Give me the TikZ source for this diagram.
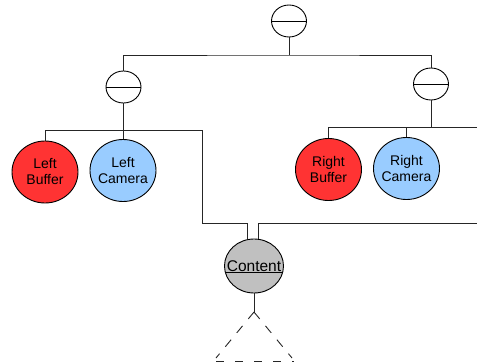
\documentclass[tikz,border=0pt]{standalone}
\usepackage{fontspec}
\setmainfont{Liberation Sans}
\usetikzlibrary{shapes.geometric}
\definecolor{bufferred}{HTML}{FF3333}
\definecolor{camerablue}{HTML}{99CCFF}
\definecolor{contentgray}{HTML}{C0C0C0}
\begin{document}
\begin{tikzpicture}
        [
            x = 1pt, y = -1pt,
            every node/.style={font=\fontsize{14}{16}\selectfont, align=center},
            every path/.style={line width=0.9pt},
            unit/.style={ellipse, draw, inner sep=0pt, inner xsep=-8pt},
            split/.style={unit, minimum width=35pt, minimum height=32pt,
                path picture={\draw (path picture bounding box.west) -- (path picture bounding box.east);}},
            leaf/.style={unit, minimum width=66pt, minimum height=62pt},
            bus/.style={draw=black!85},
        ]
        \useasboundingbox (0,0) rectangle (477,364);
        \node[split] (top) at (289,21) {};
        \node[split] (lmid) at (123.5,87) {};
        \node[split] (rmid) at (431,84) {};
        \node[leaf, fill=bufferred] (lbuf) at (45,172) {Left\\Buffer};
        \node[leaf, fill=camerablue] (lcam) at (123,170.5) {Left\\Camera};
        \node[leaf, fill=bufferred] (rbuf) at (328.5,169.5) {Right\\Buffer};
        \node[leaf, fill=camerablue] (rcam) at (406.5,168.5) {Right\\Camera};
        \node[unit, fill=contentgray, minimum width=59pt, minimum height=54pt,
            font=\fontsize{15.5}{17}\selectfont,
            path picture={\draw ([yshift=-6.8pt]path picture bounding box.west) -- ([yshift=-6.8pt]path picture bounding box.east);}]
            (content) at (254,266) {\raisebox{-5pt}[0pt][0pt]{\underline{Content}}};
        \coordinate (rout) at (477,127);
        \coordinate (cout) at (477,223);
        \coordinate (apex) at (254,312);
        \coordinate (foot1) at (216,358);
        \coordinate (foot2) at (292,358);
        \draw[bus] (lmid.north) |- (289,55) -| (rmid.north);
        \draw[bus] (top.south) -- (top.south |- 0,55);
        \draw[bus] (lbuf.north) |- (202,130) -- (202,223) -| (content.104);
        \draw[bus] (lmid.south) -- (lmid.south |- 0,130);
        \draw[bus] (lcam.north) -- (lcam.north |- 0,130);
        \draw[bus] (rbuf.north) |- (rout);
        \draw[bus] (rmid.south) -- (rmid.south |- rout);
        \draw[bus] (rcam.north) -- (rcam.north |- rout);
        \draw[bus] (content.80) |- (cout);
        \draw[bus] (content.south) -- (apex);
        \draw[bus, dash pattern=on 9pt off 9pt] (apex) -- (foot1);
        \draw[bus, dash pattern=on 9pt off 9pt] (apex) -- (foot2);
        \draw[bus, dash pattern=on 8pt off 11pt] (216,361) -- (294,361);
    \end{tikzpicture}
\end{document}
